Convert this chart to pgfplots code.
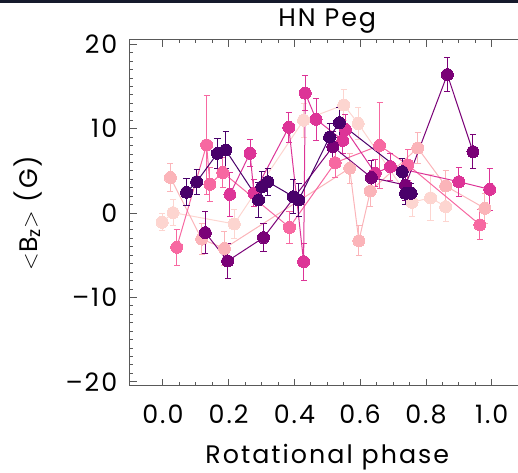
\documentclass[border=0pt]{standalone}
\usepackage{pgfplots}
\pgfplotsset{compat=1.18}
\usepackage{fontspec}
\setmainfont{Poppins}[LetterSpace=8]
\definecolor{cA}{HTML}{FDD5D0}
\definecolor{cB}{HTML}{FBB4B9}
\definecolor{cC}{HTML}{F768A1}
\definecolor{cD}{HTML}{DD3497}
\definecolor{cE}{HTML}{7A0177}
\definecolor{cF}{HTML}{49006A}
\definecolor{band}{RGB}{22,26,44}
\pgfplotsset{
  ser/.style={color=#1, line width=0.75pt, solid, mark=*, mark size=4.5pt,
    mark options={fill=#1, draw=#1, line width=0pt, solid},
    error bars/.cd, y dir=both, y explicit,
    error bar style={color=#1, line width=0.75pt, solid},
    error mark options={color=#1, mark size=2.3pt, line width=0.75pt, rotate=90, solid}},
}
\begin{document}
\begin{tikzpicture}
\begin{axis}[
  scale only axis, width=296pt, height=259.5pt,
  xmin=-0.1, xmax=1.1, ymin=-20.5, ymax=20.5,
  axis line style={black!65, line width=0.75pt},
  tick style={black!65, line width=0.6pt},
  major tick length=5.25pt, minor tick length=2.6pt,
  tick align=inside,
  xtick={0,0.2,0.4,0.6,0.8,1.0}, xticklabels={0.0,0.2,0.4,0.6,0.8,1.0},
  minor x tick num=3,
  ytick={-20,-10,0,10,20}, yticklabels={–20,–10,0,10,20},
  minor y tick num=9,
  tick label style={font=\fontsize{19}{22}\selectfont},
  xticklabel style={yshift=-10.5pt},
  yticklabel style={xshift=-6pt},
  title={HN Peg},
  title style={font=\fontsize{19}{22}\selectfont, at={(axis description cs:0.5,1)}, anchor=base, yshift=3.75pt},
  xlabel={Rotational phase},
  xlabel style={font=\fontsize{19}{22}\selectfont, at={(axis description cs:0.5,0)}, anchor=base, yshift=-58pt},
  ylabel={$<$B\textsubscript{z}$>$ (G)},
  ylabel style={font=\fontsize{19}{22}\selectfont, at={(axis description cs:-0.2356,0.5)}, anchor=base},
]
\addplot[ser=cA] table[x=x,y=y,y error=e] {
x y e
-0.002 -1.1 1.0
0.031 0.04 1.5
0.217 -1.3 1.7
0.428 11.0 2.0
0.550 12.8 1.8
0.594 10.6 1.9
0.758 1.27 1.7
0.814 1.8 2.7
0.860 0.75 1.8
};
\addplot[ser=cB] table[x=x,y=y,y error=e] {
x y e
0.023 4.2 1.7
0.118 -3.1 1.8
0.187 -4.2 2.0
0.568 5.3 1.8
0.596 -3.3 1.8
0.631 2.6 1.8
0.775 7.7 1.8
0.860 3.2 1.8
0.979 0.55 1.8
};
\addplot[ser=cC] table[x=x,y=y,y error=e] {
x y e
0.042 -4.07 2.1
0.133 8.06 5.9
0.143 3.4 2.0
0.182 4.8 1.8
0.385 -1.7 1.9
0.524 5.96 1.8
0.659 8.0 5.1
0.745 5.7 1.8
0.964 -1.4 1.8
};
\addplot[ser=cD] table[x=x,y=y,y error=e] {
x y e
0.204 2.2 2.6
0.265 7.07 1.6
0.277 2.33 1.6
0.383 10.15 1.8
0.428 -5.77 2.2
0.433 14.2 2.1
0.466 11.1 2.5
0.547 8.6 1.6
0.555 9.9 1.8
0.646 4.7 1.6
0.692 5.5 1.6
0.900 3.7 1.7
0.994 2.8 2.5
};
\addplot[ser=cE] table[x=x,y=y,y error=e] {
x y e
0.129 -2.33 2.5
0.197 -5.69 2.1
0.306 -2.92 1.7
0.517 7.86 1.8
0.634 4.2 2.0
0.738 3.3 1.8
0.865 16.4 2.0
0.943 7.26 2.0
};
\addplot[ser=cF] table[x=x,y=y,y error=e] {
x y e
0.072 2.45 1.6
0.103 3.7 1.5
0.166 7.07 1.8
0.191 7.46 2.2
0.291 1.54 2.1
0.301 3.1 1.8
0.319 3.7 1.6
0.397 1.93 2.0
0.413 1.54 2.0
0.507 9.0 1.6
0.537 10.7 1.8
0.728 4.9 1.5
0.738 2.33 1.3
0.755 2.33 1.2
};
\end{axis}
\pgfresetboundingbox
\path[use as bounding box] ([xshift=-97.5pt,yshift=-65.25pt]current axis.south west) rectangle ([xshift=-4.95pt,yshift=30pt]current axis.north east);
\fill[band] ([xshift=-97.5pt,yshift=27.75pt]current axis.north west) rectangle ([xshift=-4.95pt,yshift=30pt]current axis.north east);
\end{tikzpicture}
\end{document}
